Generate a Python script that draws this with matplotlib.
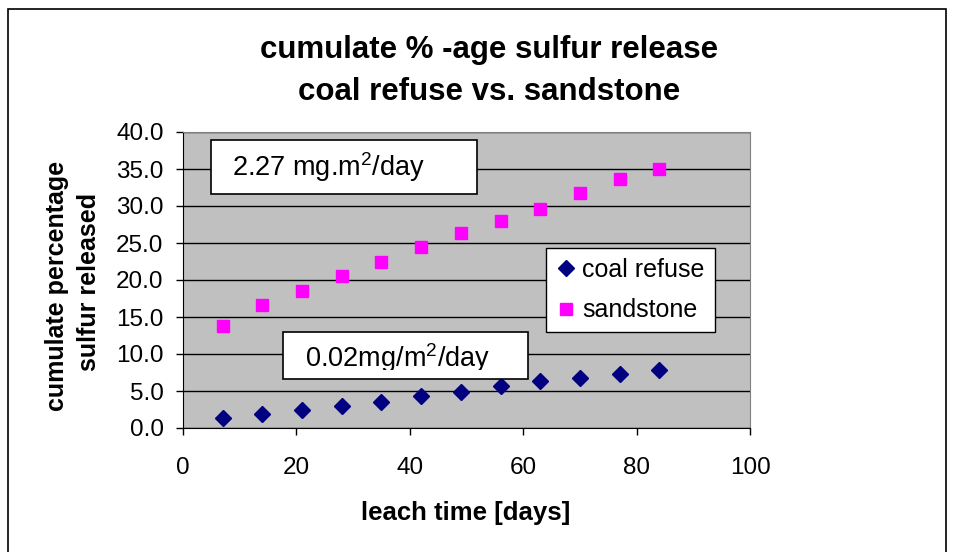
import numpy as np
import matplotlib
matplotlib.use("Agg")
import matplotlib.pyplot as plt
from matplotlib.patches import Rectangle
from matplotlib import rcParams

days = [7, 14, 21, 28, 35, 42, 49, 56, 63, 70, 77, 84]
coal_refuse = [1.3, 1.9, 2.4, 3.0, 3.5, 4.3, 4.9, 5.7, 6.3, 6.8, 7.3, 7.8]
sandstone = [13.8, 16.6, 18.5, 20.6, 22.5, 24.4, 26.3, 28.0, 29.6, 31.7, 33.6, 35.0]

x_ticks = [0, 20, 40, 60, 80, 100]
y_ticks = [0.0, 5.0, 10.0, 15.0, 20.0, 25.0, 30.0, 35.0, 40.0]

title_lines = ["cumulate % -age sulfur release", "coal refuse vs. sandstone"]
y_label_lines = ["cumulate percentage", "sulfur released"]
x_label = "leach time [days]"
rate_sandstone = "2.27 mg.m$^2$/day"
rate_coal = "0.02mg/m$^2$/day"


def plotter(save_path="out.png"):
    """Builds the chart and saves it"""
    rcParams['font.family'] = ['Liberation Sans', 'DejaVu Sans']
    rcParams['font.size'] = 17.5
    rcParams['mathtext.default'] = 'regular'

    W, H = 954, 552
    figure = plt.figure(figsize=[W / 100, H / 100], dpi=100)

    # outer chart frame
    figure.patches.append(Rectangle((8 / W, -0.05), 938 / W, 1.05 - 9 / H, transform=figure.transFigure,
                                    facecolor="none", edgecolor="black", linewidth=1.2))

    ax = figure.add_axes([183 / W, 1 - 428 / H, (750 - 183) / W, (428 - 132) / H])
    ax.set_facecolor("#C0C0C0")
    ax.set_xlim(0, 100)
    ax.set_ylim(0, 40)
    ax.set_xticks(x_ticks)
    ax.set_yticks(y_ticks)
    ax.set_yticklabels(["%.1f" % v for v in y_ticks])
    ax.tick_params(direction="out", length=5, width=1, colors="black", labelsize=17.5)
    ax.tick_params(axis="y", pad=9)
    ax.tick_params(axis="x", pad=16)
    ax.grid(axis="y", color="black", linewidth=1)
    ax.set_axisbelow(True)
    for side in ["top", "right"]:
        ax.spines[side].set_color("#808080")
    for side in ["left", "bottom"]:
        ax.spines[side].set_color("black")

    ax.plot(days, coal_refuse, linestyle="none", marker="D", markersize=8.5, color="#000080",
            label="coal refuse", clip_on=False, zorder=3)
    ax.plot(days, sandstone, linestyle="none", marker="s", markersize=8, color="#FF00FF",
            label="sandstone", clip_on=False, zorder=3)

    # rate boxes
    ax.add_patch(Rectangle((5.0, 31.6), 46.8, 7.3, facecolor="white", edgecolor="black",
                           linewidth=1.2, zorder=4))
    ax.text(8.6, 34.0, rate_sandstone, fontsize=19.5, ha="left", va="baseline", zorder=5)

    ax.add_patch(Rectangle((17.6, 6.6), 43.2, 6.4, facecolor="white", edgecolor="black",
                           linewidth=1.2, zorder=4))
    # bottom of the second label is cut by its frame
    clip_rect = Rectangle((17.6, 7.9), 43.2, 5.0, transform=ax.transData, facecolor="none")
    t = ax.text(21.5, 8.25, rate_coal, fontsize=19.5, ha="left", va="baseline", zorder=5, clip_on=True)
    t.set_clip_path(clip_rect)

    legend = ax.legend(loc="upper left", bbox_to_anchor=((546 - 183) / (750 - 183), (428 - 248) / (428 - 132)),
                       frameon=True, fancybox=False, fontsize=18, handletextpad=0.25, handlelength=0.8,
                       borderpad=0.4, labelspacing=0.65, borderaxespad=0, framealpha=1)
    legend.get_frame().set_edgecolor("black")
    legend.get_frame().set_linewidth(1.0)
    legend.set_zorder(6)

    # titles
    figure.text(489 / W, 1 - 50 / H, title_lines[0], ha="center", va="center", fontsize=22.5, fontweight="bold")
    figure.text(489 / W, 1 - 92 / H, title_lines[1], ha="center", va="center", fontsize=22.5, fontweight="bold")
    figure.text(57 / W, 1 - 286 / H, y_label_lines[0], ha="center", va="center", rotation=90,
                fontsize=18, fontweight="bold")
    figure.text(89 / W, 1 - 282 / H, y_label_lines[1], ha="center", va="center", rotation=90,
                fontsize=18, fontweight="bold")
    figure.text(466 / W, 1 - 513 / H, x_label, ha="center", va="center", fontsize=18.5, fontweight="bold")

    if save_path:
        plt.savefig(save_path, format="png", dpi=100)


if __name__ == '__main__':
    plotter("out.png")
